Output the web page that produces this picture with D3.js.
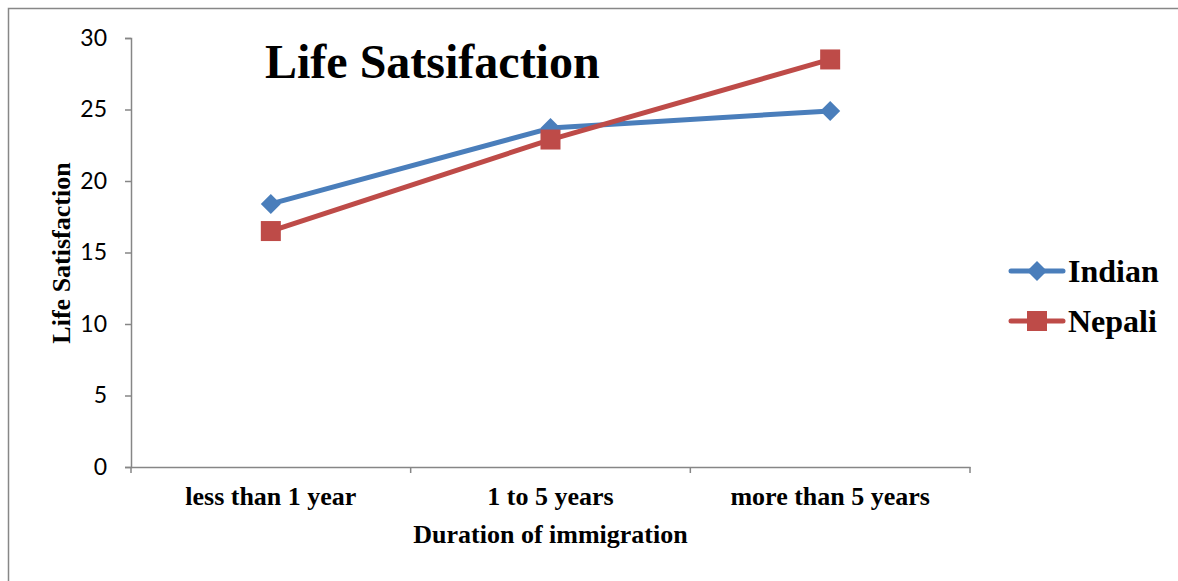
<!DOCTYPE html>
<html>
<head>
<meta charset="utf-8">
<script src="https://cdn.jsdelivr.net/npm/d3@7"></script>
<style>
  html, body { margin: 0; padding: 0; background: #fff; }
  svg { display: block; }
</style>
</head>
<body>
<svg id="chart" width="1178" height="581"></svg>
<script>
// Life satisfaction by duration of immigration
const categories = ["less than 1 year", "1 to 5 years", "more than 5 years"];
const indianValues = [18.4, 23.7, 24.9];
const nepaliValues = [16.5, 22.9, 28.5];
const yTicks = [0, 5, 10, 15, 20, 25, 30];
const seriesNames = ["Indian", "Nepali"];

const series = [
  { name: seriesNames[0], values: indianValues, color: "#4A7EBB", shape: "diamond" },
  { name: seriesNames[1], values: nepaliValues, color: "#BE4B48", shape: "square" }
];

const svg = d3.select("#chart");
const serif = "'Liberation Serif', 'Times New Roman', serif";
const sans = "Lato, 'Open Sans', sans-serif";

// outer frame
svg.append("rect")
  .attr("x", 8.5).attr("y", 8.5)
  .attr("width", 1200).attr("height", 600)
  .attr("fill", "none").attr("stroke", "#878787").attr("stroke-width", 1.5);

const plot = { left: 131, right: 970, top: 38, bottom: 467 };

const x = d3.scaleBand().domain(categories).range([plot.left, plot.right]);
const y = d3.scaleLinear().domain([0, 30]).range([plot.bottom, plot.top]);

// y axis
const yAxis = svg.append("g")
  .attr("transform", `translate(${plot.left},0)`)
  .call(d3.axisLeft(y).tickValues(yTicks).tickSize(6).tickPadding(18));
yAxis.select(".domain").attr("stroke", "#868686").attr("stroke-width", 1.5);
yAxis.selectAll(".tick line").attr("stroke", "#868686").attr("stroke-width", 1.5);
yAxis.selectAll(".tick text")
  .attr("font-family", sans).attr("font-size", 23).attr("fill", "#000");

// x axis
const xAxis = svg.append("g")
  .attr("transform", `translate(0,${plot.bottom})`)
  .call(d3.axisBottom(x).tickSize(0).tickPadding(20));
xAxis.select(".domain").attr("stroke", "#868686").attr("stroke-width", 1.5);
xAxis.selectAll(".tick text")
  .attr("font-family", serif).attr("font-size", 26).attr("font-weight", "bold").attr("fill", "#000");

// category boundary ticks
const bounds = [plot.left, ...categories.map(c => x(c) + x.bandwidth())];
svg.append("g").selectAll("line")
  .data(bounds).join("line")
  .attr("x1", d => d).attr("x2", d => d)
  .attr("y1", plot.bottom).attr("y2", plot.bottom + 6)
  .attr("stroke", "#868686").attr("stroke-width", 1.5);

// axis titles
svg.append("text")
  .attr("x", (plot.left + plot.right) / 2).attr("y", 543)
  .attr("text-anchor", "middle")
  .attr("font-family", serif).attr("font-size", 26).attr("font-weight", "bold")
  .text("Duration of immigration");

svg.append("text")
  .attr("transform", "translate(70,253) rotate(-90)")
  .attr("text-anchor", "middle")
  .attr("font-family", serif).attr("font-size", 26).attr("font-weight", "bold")
  .text("Life Satisfaction");

// chart title
svg.append("text")
  .attr("x", 265).attr("y", 78)
  .attr("font-family", serif).attr("font-size", 48).attr("font-weight", "bold")
  .text("Life Satsifaction");

const cx = c => x(c) + x.bandwidth() / 2;
const line = d3.line().x((d, i) => cx(categories[i])).y(d => y(d));

function marker(sel, shape, color) {
  if (shape === "diamond") {
    sel.append("path")
      .attr("d", "M0,-10 L10,0 L0,10 L-10,0 Z")
      .attr("fill", color);
  } else {
    sel.append("rect")
      .attr("x", -10).attr("y", -10).attr("width", 20).attr("height", 20)
      .attr("fill", color);
  }
}

series.forEach(s => {
  svg.append("path")
    .datum(s.values)
    .attr("d", line)
    .attr("fill", "none")
    .attr("stroke", s.color)
    .attr("stroke-width", 5)
    .attr("stroke-linejoin", "round");
  svg.append("g").selectAll("g")
    .data(s.values).join("g")
    .attr("transform", (d, i) => `translate(${cx(categories[i])},${y(d)})`)
    .each(function () { marker(d3.select(this), s.shape, s.color); });
});

// legend
const legend = svg.append("g");
series.forEach((s, i) => {
  const ly = 271 + i * 50;
  const g = legend.append("g").attr("transform", `translate(0,${ly})`);
  g.append("line")
    .attr("x1", 1011).attr("x2", 1063).attr("y1", 0).attr("y2", 0)
    .attr("stroke", s.color).attr("stroke-width", 5).attr("stroke-linecap", "round");
  const m = g.append("g").attr("transform", "translate(1037,0)");
  marker(m, s.shape, s.color);
  g.append("text")
    .attr("x", 1068).attr("y", 11)
    .attr("font-family", serif).attr("font-size", 32).attr("font-weight", "bold")
    .text(s.name);
});
</script>
</body>
</html>
